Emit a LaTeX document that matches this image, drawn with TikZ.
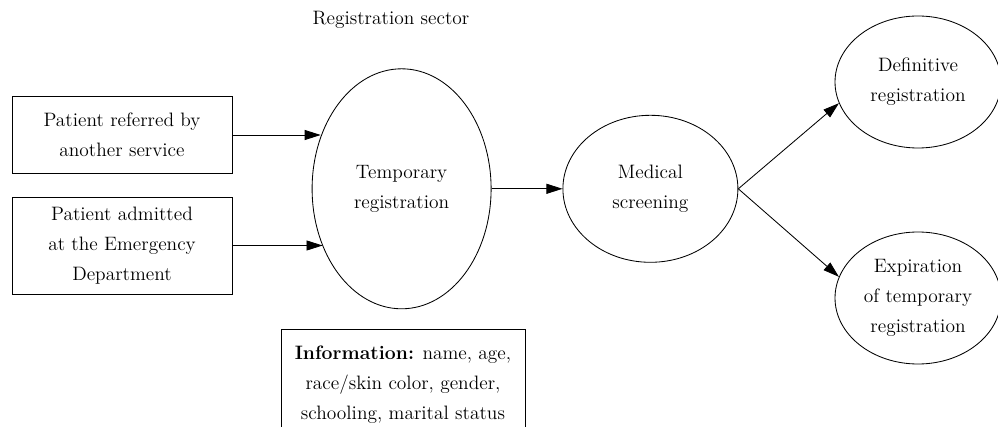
\documentclass[tikz,border=0pt]{standalone}
\usetikzlibrary{arrows.meta,shapes.geometric}

\begin{document}
\begin{tikzpicture}[font=\fontsize{13.8}{21.3}\selectfont,
    every node/.style={align=center},
    sourcebox/.style={draw, line width=0.6pt, minimum width=5.5cm, inner sep=2pt},
    stateoval/.style={draw, ellipse, line width=0.6pt, inner sep=0pt},
    flowarrow/.style={-{Triangle[length=0.4cm, width=0.25cm]}, line width=0.6pt}]
    \useasboundingbox (0,0) rectangle (24.95,10.65);

    % Registration flow of the patient
    \node (sector) at (9.775,10.15) {Registration sector};
    \node[sourcebox, minimum height=1.925cm] (referred) at (3.05,7.275) {Patient referred by\\another service};
    \node[sourcebox, minimum height=2.425cm] (admitted) at (3.05,4.5125) {Patient admitted\\at the Emergency\\Department};
    \node[stateoval, minimum width=4.475cm, minimum height=6cm] (temp) at (10.04,5.93) {Temporary\\registration};
    \node[stateoval, minimum width=4.375cm, minimum height=3.675cm] (medical) at (16.26,5.93) {Medical\\screening};
    \node[stateoval, minimum width=4.15cm, minimum height=3.3cm] (definitive) at (22.95,8.6) {Definitive\\registration};
    \node[stateoval, minimum width=4.15cm, minimum height=3.3cm] (expiration) at (22.95,3.2) {Expiration\\of temporary\\registration};
    \node[sourcebox, anchor=north, minimum width=6.1cm, minimum height=2.75cm] (info) at (10.075,2.425) {\textbf{Information:} name, age,\\race/skin color, gender,\\schooling, marital status};

    \draw[flowarrow] (referred.east) -- (referred.east -| temp.147);
    \draw[flowarrow] (admitted.east) -- (admitted.east -| temp.216);
    \draw[flowarrow] (temp.east) -- (medical.west);
    \draw[flowarrow] (medical.east) -- (definitive.195);
    \draw[flowarrow] (medical.east) -- (expiration.165);
\end{tikzpicture}
\end{document}
